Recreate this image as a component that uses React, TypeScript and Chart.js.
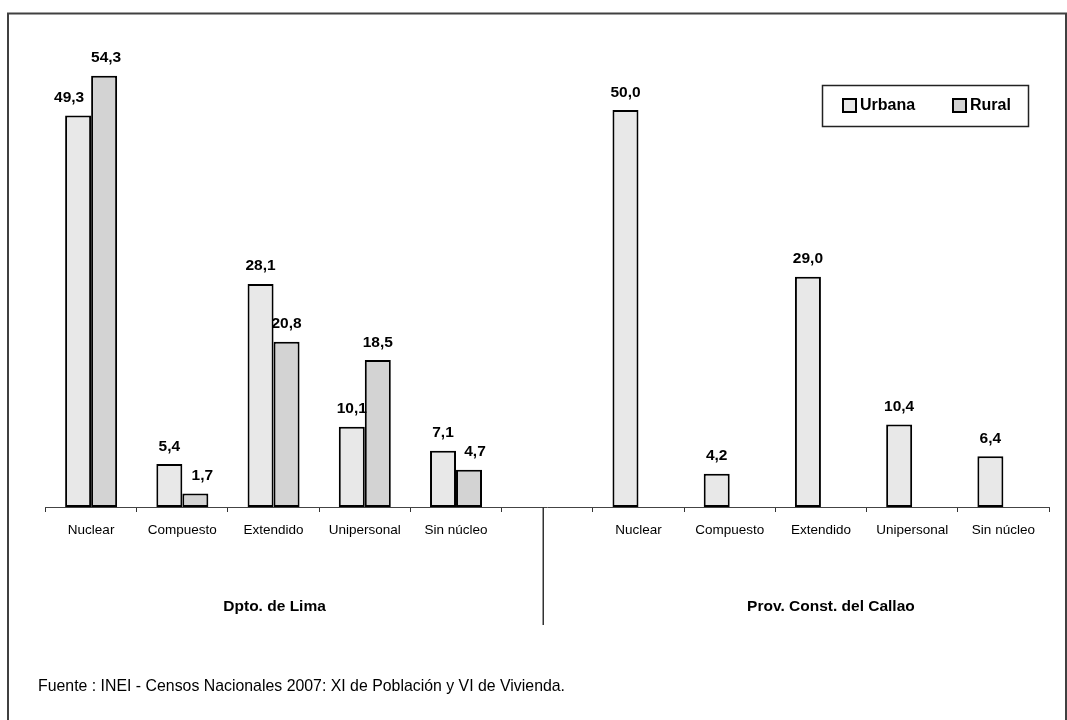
import React, { useEffect, useRef } from "react";
import { Chart, registerables } from "chart.js";

Chart.register(...registerables);

const categories = [
  "Nuclear", "Compuesto", "Extendido", "Unipersonal", "Sin núcleo", "",
  "Nuclear", "Compuesto", "Extendido", "Unipersonal", "Sin núcleo",
];
const urbana = [49.3, 5.4, 28.1, 10.1, 7.1, null, 50.0, 4.2, 29.0, 10.4, 6.4];
const rural = [54.3, 1.7, 20.8, 18.5, 4.7, null, null, null, null, null, null];
const seriesNames = ["Urbana", "Rural"];
const groupLabels = ["Dpto. de Lima", "Prov. Const. del Callao"];
const sourceText = "Fuente : INEI - Censos Nacionales 2007: XI de Población y VI de Vivienda.";

const FONT = "'Liberation Sans', Arial, sans-serif";
const COLORS = ["#e8e8e8", "#d3d3d3"];
// small horizontal nudges of value labels (as in the original, to avoid overlaps)
const LABEL_NUDGE: Record<string, number> = { "0-0": -9, "1-0": 2, "1-1": 7, "1-4": 6 };

function scaledText(ctx: any, text: string, x: number, y: number, targetW: number, align: string) {
  const w = ctx.measureText(text).width;
  const sx = targetW / w;
  ctx.save();
  ctx.translate(x, y);
  ctx.scale(sx, 1);
  ctx.textAlign = align;
  ctx.fillText(text, 0, 0);
  ctx.restore();
}

const decorPlugin = {
  id: "decor",
  afterDraw(chart: any) {
    const ctx = chart.ctx;
    const xs = chart.scales.x;
    const area = chart.chartArea;
    ctx.save();
    // frame
    ctx.strokeStyle = "#404040";
    ctx.lineWidth = 2;
    ctx.beginPath();
    ctx.moveTo(8, 722);
    ctx.lineTo(8, 13.5);
    ctx.lineTo(1066, 13.5);
    ctx.lineTo(1066, 722);
    ctx.stroke();

    // value labels
    ctx.fillStyle = "#000";
    ctx.font = `bold 15.5px ${FONT}`;
    ctx.textAlign = "center";
    ctx.textBaseline = "alphabetic";
    chart.data.datasets.forEach((ds: any, di: number) => {
      const meta = chart.getDatasetMeta(di);
      meta.data.forEach((el: any, i: number) => {
        const v = ds.data[i];
        if (v === null || v === undefined) return;
        const dx = LABEL_NUDGE[`${di}-${i}`] || 0;
        ctx.fillText(v.toFixed(1).replace(".", ","), el.x + dx, el.y - 13.5);
      });
    });

    // divider
    const divX = (xs.getPixelForValue(4) + xs.getPixelForValue(6)) / 2 - 4;
    ctx.strokeStyle = "#333";
    ctx.lineWidth = 1.5;
    ctx.beginPath();
    ctx.moveTo(divX, area.bottom);
    ctx.lineTo(divX, 625);
    ctx.stroke();

    // group labels
    ctx.font = `bold 15.5px ${FONT}`;
    ctx.textBaseline = "middle";
    ctx.textAlign = "center";
    const g1 = (xs.getPixelForValue(0) + xs.getPixelForValue(4)) / 2 + 1;
    const g2 = (xs.getPixelForValue(6) + xs.getPixelForValue(10)) / 2 + 10;
    ctx.fillText(groupLabels[0], g1, 607);
    ctx.fillText(groupLabels[1], g2, 607);

    // source
    ctx.font = `17px ${FONT}`;
    ctx.textBaseline = "middle";
    scaledText(ctx, sourceText, 38, 686, 527, "left");

    // legend
    ctx.strokeStyle = "#222";
    ctx.lineWidth = 1.5;
    ctx.strokeRect(822.5, 85.5, 206, 41);
    const items = [
      { x: 843, tx: 860 },
      { x: 953, tx: 970 },
    ];
    ctx.font = `bold 16px ${FONT}`;
    ctx.textBaseline = "middle";
    ctx.textAlign = "left";
    items.forEach((it, k) => {
      ctx.fillStyle = COLORS[k];
      ctx.fillRect(it.x, 99, 13, 13);
      ctx.strokeStyle = "#000";
      ctx.lineWidth = 2;
      ctx.strokeRect(it.x, 99, 13, 13);
      ctx.fillStyle = "#000";
      ctx.fillText(seriesNames[k], it.tx, 106);
    });
    ctx.restore();
  },
};

export default function App() {
  const ref = useRef<HTMLCanvasElement | null>(null);
  useEffect(() => {
    if (!ref.current) return;
    const chart = new Chart(ref.current, {
      type: "bar",
      data: {
        labels: categories,
        datasets: [
          {
            label: seriesNames[0],
            data: urbana,
            backgroundColor: COLORS[0],
            borderColor: "#000",
            borderWidth: 2,
            borderSkipped: false,
          },
          {
            label: seriesNames[1],
            data: rural,
            backgroundColor: COLORS[1],
            borderColor: "#000",
            borderWidth: 2,
            borderSkipped: false,
          },
        ],
      },
      options: {
        animation: false,
        responsive: false,
        events: [],
        layout: { padding: { left: 45.5, right: 18, top: 30.6, bottom: 0 } },
        datasets: { bar: { categoryPercentage: 0.57, barPercentage: 1 } },
        plugins: { legend: { display: false }, tooltip: { enabled: false } },
        scales: {
          x: {
            offset: true,
            grid: {
              offset: true,
              drawOnChartArea: false,
              drawTicks: true,
              tickLength: 5,
              color: "#333",
              lineWidth: 1,
            },
            border: { display: true, color: "#444", width: 1 },
            ticks: {
              color: "#000",
              font: { family: FONT, size: 13.5 },
              padding: 10,
              maxRotation: 0,
              autoSkip: false,
            },
            afterFit: (scale: any) => {
              scale.height = 213;
            },
          },
          y: { display: false, min: 0, max: 60 },
        },
      },
      plugins: [decorPlugin],
    });
    return () => chart.destroy();
  }, []);
  return (
    <div style={{ position: "absolute", left: 0, top: 0, width: 1067, height: 720, background: "#fff" }}>
      <canvas ref={ref} width={1067} height={720} style={{ display: "block" }} />
    </div>
  );
}
